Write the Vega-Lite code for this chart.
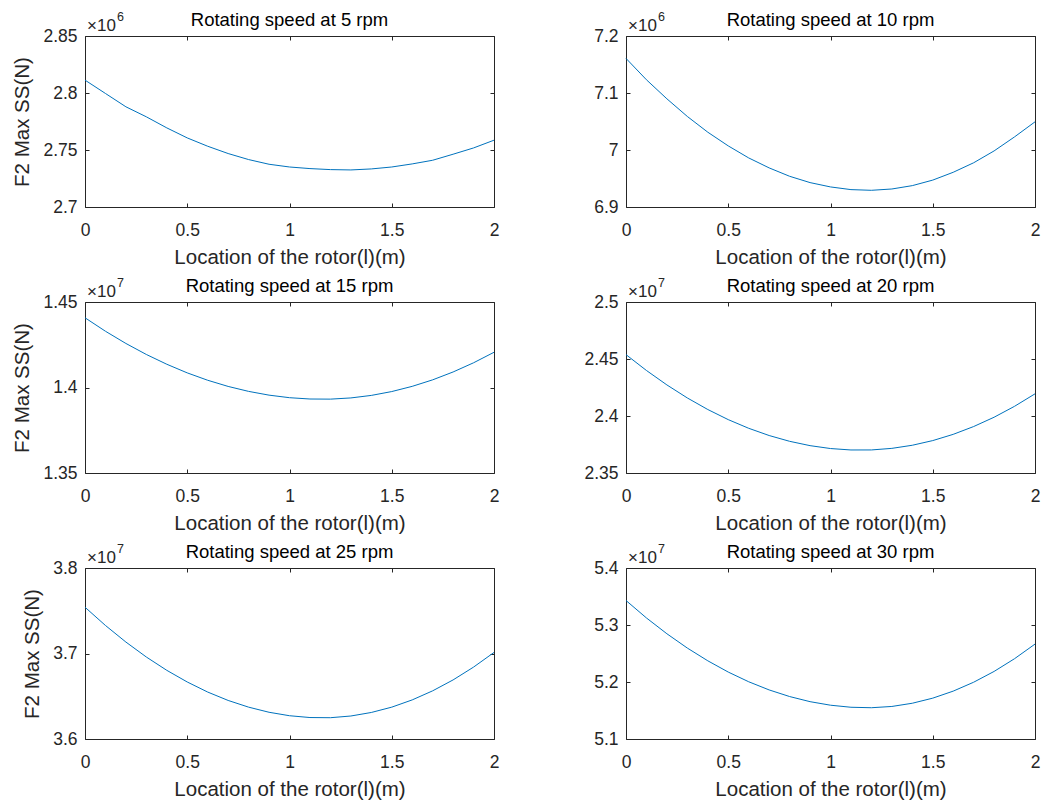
{
  "$schema": "https://vega.github.io/schema/vega-lite/v6.json",
  "background": "white",
  "padding": {"left": 12, "top": 10, "right": 5, "bottom": 5},
  "autosize": {"type": "pad"},
  "config": {
    "font": "Liberation Sans",
    "view": {"stroke": "#262626", "strokeWidth": 1},
    "axis": {
      "domain": false,
      "grid": false,
      "labelFlush": false,
      "tickSize": -4,
      "tickColor": "#262626",
      "tickWidth": 1,
      "labelFont": "Liberation Sans",
      "labelFontSize": 17.5,
      "labelColor": "#262626",
      "titleFont": "Liberation Sans",
      "titleFontSize": 20.5,
      "titleFontWeight": "normal",
      "titleColor": "#262626"
    },
    "axisBottom": {"labelPadding": 18, "titlePadding": 9, "labelExpr": "format(datum.value, '~g')"},
    "axisLeft": {"labelPadding": 12, "titlePadding": 10},
    "title": {"font": "Liberation Sans", "fontSize": 18.5, "fontWeight": "normal", "color": "#000000", "baseline": "alphabetic", "offset": 10, "dy": 28, "frame": "group", "anchor": "middle"},
    "text": {"font": "Liberation Sans", "color": "#262626"}
  },
  "datasets": {
    "rotor": [
      {"rpm":5,"l":0,"F":2811300},{"rpm":5,"l":0.1,"F":2799600},{"rpm":5,"l":0.2,"F":2787900},{"rpm":5,"l":0.3,"F":2779100},{"rpm":5,"l":0.4,"F":2769400},{"rpm":5,"l":0.5,"F":2760600},{"rpm":5,"l":0.6,"F":2753300},{"rpm":5,"l":0.7,"F":2746900},{"rpm":5,"l":0.8,"F":2741600},{"rpm":5,"l":0.9,"F":2737500},{"rpm":5,"l":1,"F":2735100},{"rpm":5,"l":1.1,"F":2733700},{"rpm":5,"l":1.2,"F":2732800},{"rpm":5,"l":1.3,"F":2732500},{"rpm":5,"l":1.4,"F":2733400},{"rpm":5,"l":1.5,"F":2735100},{"rpm":5,"l":1.6,"F":2737800},{"rpm":5,"l":1.7,"F":2741000},{"rpm":5,"l":1.8,"F":2746300},{"rpm":5,"l":1.9,"F":2751800},{"rpm":5,"l":2,"F":2758600},
      {"rpm":10,"l":0,"F":7160700},{"rpm":10,"l":0.1,"F":7123200},{"rpm":10,"l":0.2,"F":7089800},{"rpm":10,"l":0.3,"F":7058800},{"rpm":10,"l":0.4,"F":7031200},{"rpm":10,"l":0.5,"F":7007200},{"rpm":10,"l":0.6,"F":6986100},{"rpm":10,"l":0.7,"F":6968600},{"rpm":10,"l":0.8,"F":6953900},{"rpm":10,"l":0.9,"F":6942800},{"rpm":10,"l":1,"F":6935200},{"rpm":10,"l":1.1,"F":6930500},{"rpm":10,"l":1.2,"F":6929300},{"rpm":10,"l":1.3,"F":6931600},{"rpm":10,"l":1.4,"F":6937500},{"rpm":10,"l":1.5,"F":6947200},{"rpm":10,"l":1.6,"F":6960900},{"rpm":10,"l":1.7,"F":6977600},{"rpm":10,"l":1.8,"F":6998400},{"rpm":10,"l":1.9,"F":7023000},{"rpm":10,"l":2,"F":7049400},
      {"rpm":15,"l":0,"F":14407800},{"rpm":15,"l":0.1,"F":14329000},{"rpm":15,"l":0.2,"F":14257500},{"rpm":15,"l":0.3,"F":14193100},{"rpm":15,"l":0.4,"F":14135900},{"rpm":15,"l":0.5,"F":14085500},{"rpm":15,"l":0.6,"F":14042400},{"rpm":15,"l":0.7,"F":14006300},{"rpm":15,"l":0.8,"F":13977300},{"rpm":15,"l":0.9,"F":13955300},{"rpm":15,"l":1,"F":13940400},{"rpm":15,"l":1.1,"F":13932700},{"rpm":15,"l":1.2,"F":13932000},{"rpm":15,"l":1.3,"F":13939000},{"rpm":15,"l":1.4,"F":13953700},{"rpm":15,"l":1.5,"F":13976300},{"rpm":15,"l":1.6,"F":14006700},{"rpm":15,"l":1.7,"F":14044700},{"rpm":15,"l":1.8,"F":14090800},{"rpm":15,"l":1.9,"F":14144500},{"rpm":15,"l":2,"F":14205900},
      {"rpm":20,"l":0,"F":24538300},{"rpm":20,"l":0.1,"F":24399300},{"rpm":20,"l":0.2,"F":24272600},{"rpm":20,"l":0.3,"F":24158300},{"rpm":20,"l":0.4,"F":24056800},{"rpm":20,"l":0.5,"F":23968100},{"rpm":20,"l":0.6,"F":23892200},{"rpm":20,"l":0.7,"F":23828700},{"rpm":20,"l":0.8,"F":23778100},{"rpm":20,"l":0.9,"F":23739900},{"rpm":20,"l":1,"F":23714600},{"rpm":20,"l":1.1,"F":23702000},{"rpm":20,"l":1.2,"F":23702300},{"rpm":20,"l":1.3,"F":23716100},{"rpm":20,"l":1.4,"F":23743400},{"rpm":20,"l":1.5,"F":23784300},{"rpm":20,"l":1.6,"F":23839000},{"rpm":20,"l":1.7,"F":23907500},{"rpm":20,"l":1.8,"F":23989200},{"rpm":20,"l":1.9,"F":24085100},{"rpm":20,"l":2,"F":24194400},
      {"rpm":25,"l":0,"F":37541200},{"rpm":25,"l":0.1,"F":37327900},{"rpm":25,"l":0.2,"F":37133800},{"rpm":25,"l":0.3,"F":36958800},{"rpm":25,"l":0.4,"F":36803100},{"rpm":25,"l":0.5,"F":36666700},{"rpm":25,"l":0.6,"F":36549000},{"rpm":25,"l":0.7,"F":36451000},{"rpm":25,"l":0.8,"F":36372500},{"rpm":25,"l":0.9,"F":36312500},{"rpm":25,"l":1,"F":36272200},{"rpm":25,"l":1.1,"F":36251000},{"rpm":25,"l":1.2,"F":36249000},{"rpm":25,"l":1.3,"F":36269000},{"rpm":25,"l":1.4,"F":36310200},{"rpm":25,"l":1.5,"F":36372500},{"rpm":25,"l":1.6,"F":36457100},{"rpm":25,"l":1.7,"F":36563300},{"rpm":25,"l":1.8,"F":36691100},{"rpm":25,"l":1.9,"F":36840900},{"rpm":25,"l":2,"F":37012200},
      {"rpm":30,"l":0,"F":53429600},{"rpm":30,"l":0.1,"F":53123900},{"rpm":30,"l":0.2,"F":52846300},{"rpm":30,"l":0.3,"F":52595300},{"rpm":30,"l":0.4,"F":52371800},{"rpm":30,"l":0.5,"F":52174300},{"rpm":30,"l":0.6,"F":52004300},{"rpm":30,"l":0.7,"F":51860900},{"rpm":30,"l":0.8,"F":51745000},{"rpm":30,"l":0.9,"F":51655100},{"rpm":30,"l":1,"F":51592700},{"rpm":30,"l":1.1,"F":51556900},{"rpm":30,"l":1.2,"F":51548600},{"rpm":30,"l":1.3,"F":51570900},{"rpm":30,"l":1.4,"F":51627400},{"rpm":30,"l":1.5,"F":51716800},{"rpm":30,"l":1.6,"F":51839700},{"rpm":30,"l":1.7,"F":51996100},{"rpm":30,"l":1.8,"F":52185400},{"rpm":30,"l":1.9,"F":52408900},{"rpm":30,"l":2,"F":52665200}
    ]
  },
  "columns": 2,
  "spacing": {"row": 95, "column": 132},
  "bounds": "flush",
  "concat": [
    {
      "title": "Rotating speed at 5 rpm",
      "width": 409, "height": 171,
      "data": {"name": "rotor"},
      "layer": [
        {"transform": [{"filter": "datum.rpm == 5"}],
         "mark": {"type": "line", "color": "#0072BD", "strokeWidth": 1},
         "encoding": {
           "x": {"field": "l", "type": "quantitative", "scale": {"domain": [0, 2], "nice": false, "zero": false}, "axis": {"orient": "bottom", "values": [0, 0.5, 1, 1.5, 2], "title": "Location of the rotor(l)(m)"}},
           "y": {"field": "F", "type": "quantitative", "scale": {"domain": [2700000, 2850000], "nice": false, "zero": false}, "axis": {"orient": "left", "values": [2700000, 2750000, 2800000, 2850000], "labelExpr": "format(datum.value/1e6, '~g')", "title": "F2 Max SS(N)"}}
         }},
        {"transform": [{"filter": "datum.rpm == 5"}],
         "mark": {"type": "line", "opacity": 0},
         "encoding": {
           "x": {"field": "l", "type": "quantitative", "axis": {"orient": "top", "values": [0, 0.5, 1, 1.5, 2], "labels": false, "title": null}},
           "y": {"field": "F", "type": "quantitative", "axis": {"orient": "right", "values": [2700000, 2750000, 2800000, 2850000], "labels": false, "title": null}}
         }},
        {"data": {"values": [{}]},
         "mark": {"type": "text", "text": "×10", "fontSize": 17, "align": "left", "baseline": "alphabetic", "dx": 2, "dy": -5},
         "encoding": {"x": {"datum": 0, "type": "quantitative", "axis": null}, "y": {"datum": 2850000, "type": "quantitative", "axis": null}}},
        {"data": {"values": [{}]},
         "mark": {"type": "text", "text": "6", "fontSize": 12.5, "align": "left", "baseline": "alphabetic", "dx": 32, "dy": -15},
         "encoding": {"x": {"datum": 0, "type": "quantitative", "axis": null}, "y": {"datum": 2850000, "type": "quantitative", "axis": null}}}
      ],
      "resolve": {"axis": {"x": "independent", "y": "independent"}}
    },
    {
      "title": "Rotating speed at 10 rpm",
      "width": 409, "height": 171,
      "data": {"name": "rotor"},
      "layer": [
        {"transform": [{"filter": "datum.rpm == 10"}],
         "mark": {"type": "line", "color": "#0072BD", "strokeWidth": 1},
         "encoding": {
           "x": {"field": "l", "type": "quantitative", "scale": {"domain": [0, 2], "nice": false, "zero": false}, "axis": {"orient": "bottom", "values": [0, 0.5, 1, 1.5, 2], "title": "Location of the rotor(l)(m)"}},
           "y": {"field": "F", "type": "quantitative", "scale": {"domain": [6900000, 7200000], "nice": false, "zero": false}, "axis": {"orient": "left", "values": [6900000, 7000000, 7100000, 7200000], "labelExpr": "format(datum.value/1e6, '~g')", "title": null}}
         }},
        {"transform": [{"filter": "datum.rpm == 10"}],
         "mark": {"type": "line", "opacity": 0},
         "encoding": {
           "x": {"field": "l", "type": "quantitative", "axis": {"orient": "top", "values": [0, 0.5, 1, 1.5, 2], "labels": false, "title": null}},
           "y": {"field": "F", "type": "quantitative", "axis": {"orient": "right", "values": [6900000, 7000000, 7100000, 7200000], "labels": false, "title": null}}
         }},
        {"data": {"values": [{}]},
         "mark": {"type": "text", "text": "×10", "fontSize": 17, "align": "left", "baseline": "alphabetic", "dx": 2, "dy": -5},
         "encoding": {"x": {"datum": 0, "type": "quantitative", "axis": null}, "y": {"datum": 7200000, "type": "quantitative", "axis": null}}},
        {"data": {"values": [{}]},
         "mark": {"type": "text", "text": "6", "fontSize": 12.5, "align": "left", "baseline": "alphabetic", "dx": 32, "dy": -15},
         "encoding": {"x": {"datum": 0, "type": "quantitative", "axis": null}, "y": {"datum": 7200000, "type": "quantitative", "axis": null}}}
      ],
      "resolve": {"axis": {"x": "independent", "y": "independent"}}
    },
    {
      "title": "Rotating speed at 15 rpm",
      "width": 409, "height": 171,
      "data": {"name": "rotor"},
      "layer": [
        {"transform": [{"filter": "datum.rpm == 15"}],
         "mark": {"type": "line", "color": "#0072BD", "strokeWidth": 1},
         "encoding": {
           "x": {"field": "l", "type": "quantitative", "scale": {"domain": [0, 2], "nice": false, "zero": false}, "axis": {"orient": "bottom", "values": [0, 0.5, 1, 1.5, 2], "title": "Location of the rotor(l)(m)"}},
           "y": {"field": "F", "type": "quantitative", "scale": {"domain": [13500000, 14500000], "nice": false, "zero": false}, "axis": {"orient": "left", "values": [13500000, 14000000, 14500000], "labelExpr": "format(datum.value/1e7, '~g')", "title": "F2 Max SS(N)"}}
         }},
        {"transform": [{"filter": "datum.rpm == 15"}],
         "mark": {"type": "line", "opacity": 0},
         "encoding": {
           "x": {"field": "l", "type": "quantitative", "axis": {"orient": "top", "values": [0, 0.5, 1, 1.5, 2], "labels": false, "title": null}},
           "y": {"field": "F", "type": "quantitative", "axis": {"orient": "right", "values": [13500000, 14000000, 14500000], "labels": false, "title": null}}
         }},
        {"data": {"values": [{}]},
         "mark": {"type": "text", "text": "×10", "fontSize": 17, "align": "left", "baseline": "alphabetic", "dx": 2, "dy": -5},
         "encoding": {"x": {"datum": 0, "type": "quantitative", "axis": null}, "y": {"datum": 14500000, "type": "quantitative", "axis": null}}},
        {"data": {"values": [{}]},
         "mark": {"type": "text", "text": "7", "fontSize": 12.5, "align": "left", "baseline": "alphabetic", "dx": 32, "dy": -15},
         "encoding": {"x": {"datum": 0, "type": "quantitative", "axis": null}, "y": {"datum": 14500000, "type": "quantitative", "axis": null}}}
      ],
      "resolve": {"axis": {"x": "independent", "y": "independent"}}
    },
    {
      "title": "Rotating speed at 20 rpm",
      "width": 409, "height": 171,
      "data": {"name": "rotor"},
      "layer": [
        {"transform": [{"filter": "datum.rpm == 20"}],
         "mark": {"type": "line", "color": "#0072BD", "strokeWidth": 1},
         "encoding": {
           "x": {"field": "l", "type": "quantitative", "scale": {"domain": [0, 2], "nice": false, "zero": false}, "axis": {"orient": "bottom", "values": [0, 0.5, 1, 1.5, 2], "title": "Location of the rotor(l)(m)"}},
           "y": {"field": "F", "type": "quantitative", "scale": {"domain": [23500000, 25000000], "nice": false, "zero": false}, "axis": {"orient": "left", "values": [23500000, 24000000, 24500000, 25000000], "labelExpr": "format(datum.value/1e7, '~g')", "title": null}}
         }},
        {"transform": [{"filter": "datum.rpm == 20"}],
         "mark": {"type": "line", "opacity": 0},
         "encoding": {
           "x": {"field": "l", "type": "quantitative", "axis": {"orient": "top", "values": [0, 0.5, 1, 1.5, 2], "labels": false, "title": null}},
           "y": {"field": "F", "type": "quantitative", "axis": {"orient": "right", "values": [23500000, 24000000, 24500000, 25000000], "labels": false, "title": null}}
         }},
        {"data": {"values": [{}]},
         "mark": {"type": "text", "text": "×10", "fontSize": 17, "align": "left", "baseline": "alphabetic", "dx": 2, "dy": -5},
         "encoding": {"x": {"datum": 0, "type": "quantitative", "axis": null}, "y": {"datum": 25000000, "type": "quantitative", "axis": null}}},
        {"data": {"values": [{}]},
         "mark": {"type": "text", "text": "7", "fontSize": 12.5, "align": "left", "baseline": "alphabetic", "dx": 32, "dy": -15},
         "encoding": {"x": {"datum": 0, "type": "quantitative", "axis": null}, "y": {"datum": 25000000, "type": "quantitative", "axis": null}}}
      ],
      "resolve": {"axis": {"x": "independent", "y": "independent"}}
    },
    {
      "title": "Rotating speed at 25 rpm",
      "width": 409, "height": 171,
      "data": {"name": "rotor"},
      "layer": [
        {"transform": [{"filter": "datum.rpm == 25"}],
         "mark": {"type": "line", "color": "#0072BD", "strokeWidth": 1},
         "encoding": {
           "x": {"field": "l", "type": "quantitative", "scale": {"domain": [0, 2], "nice": false, "zero": false}, "axis": {"orient": "bottom", "values": [0, 0.5, 1, 1.5, 2], "title": "Location of the rotor(l)(m)"}},
           "y": {"field": "F", "type": "quantitative", "scale": {"domain": [36000000, 38000000], "nice": false, "zero": false}, "axis": {"orient": "left", "values": [36000000, 37000000, 38000000], "labelExpr": "format(datum.value/1e7, '~g')", "title": "F2 Max SS(N)"}}
         }},
        {"transform": [{"filter": "datum.rpm == 25"}],
         "mark": {"type": "line", "opacity": 0},
         "encoding": {
           "x": {"field": "l", "type": "quantitative", "axis": {"orient": "top", "values": [0, 0.5, 1, 1.5, 2], "labels": false, "title": null}},
           "y": {"field": "F", "type": "quantitative", "axis": {"orient": "right", "values": [36000000, 37000000, 38000000], "labels": false, "title": null}}
         }},
        {"data": {"values": [{}]},
         "mark": {"type": "text", "text": "×10", "fontSize": 17, "align": "left", "baseline": "alphabetic", "dx": 2, "dy": -5},
         "encoding": {"x": {"datum": 0, "type": "quantitative", "axis": null}, "y": {"datum": 38000000, "type": "quantitative", "axis": null}}},
        {"data": {"values": [{}]},
         "mark": {"type": "text", "text": "7", "fontSize": 12.5, "align": "left", "baseline": "alphabetic", "dx": 32, "dy": -15},
         "encoding": {"x": {"datum": 0, "type": "quantitative", "axis": null}, "y": {"datum": 38000000, "type": "quantitative", "axis": null}}}
      ],
      "resolve": {"axis": {"x": "independent", "y": "independent"}}
    },
    {
      "title": "Rotating speed at 30 rpm",
      "width": 409, "height": 171,
      "data": {"name": "rotor"},
      "layer": [
        {"transform": [{"filter": "datum.rpm == 30"}],
         "mark": {"type": "line", "color": "#0072BD", "strokeWidth": 1},
         "encoding": {
           "x": {"field": "l", "type": "quantitative", "scale": {"domain": [0, 2], "nice": false, "zero": false}, "axis": {"orient": "bottom", "values": [0, 0.5, 1, 1.5, 2], "title": "Location of the rotor(l)(m)"}},
           "y": {"field": "F", "type": "quantitative", "scale": {"domain": [51000000, 54000000], "nice": false, "zero": false}, "axis": {"orient": "left", "values": [51000000, 52000000, 53000000, 54000000], "labelExpr": "format(datum.value/1e7, '~g')", "title": null}}
         }},
        {"transform": [{"filter": "datum.rpm == 30"}],
         "mark": {"type": "line", "opacity": 0},
         "encoding": {
           "x": {"field": "l", "type": "quantitative", "axis": {"orient": "top", "values": [0, 0.5, 1, 1.5, 2], "labels": false, "title": null}},
           "y": {"field": "F", "type": "quantitative", "axis": {"orient": "right", "values": [51000000, 52000000, 53000000, 54000000], "labels": false, "title": null}}
         }},
        {"data": {"values": [{}]},
         "mark": {"type": "text", "text": "×10", "fontSize": 17, "align": "left", "baseline": "alphabetic", "dx": 2, "dy": -5},
         "encoding": {"x": {"datum": 0, "type": "quantitative", "axis": null}, "y": {"datum": 54000000, "type": "quantitative", "axis": null}}},
        {"data": {"values": [{}]},
         "mark": {"type": "text", "text": "7", "fontSize": 12.5, "align": "left", "baseline": "alphabetic", "dx": 32, "dy": -15},
         "encoding": {"x": {"datum": 0, "type": "quantitative", "axis": null}, "y": {"datum": 54000000, "type": "quantitative", "axis": null}}}
      ],
      "resolve": {"axis": {"x": "independent", "y": "independent"}}
    }
  ]
}
